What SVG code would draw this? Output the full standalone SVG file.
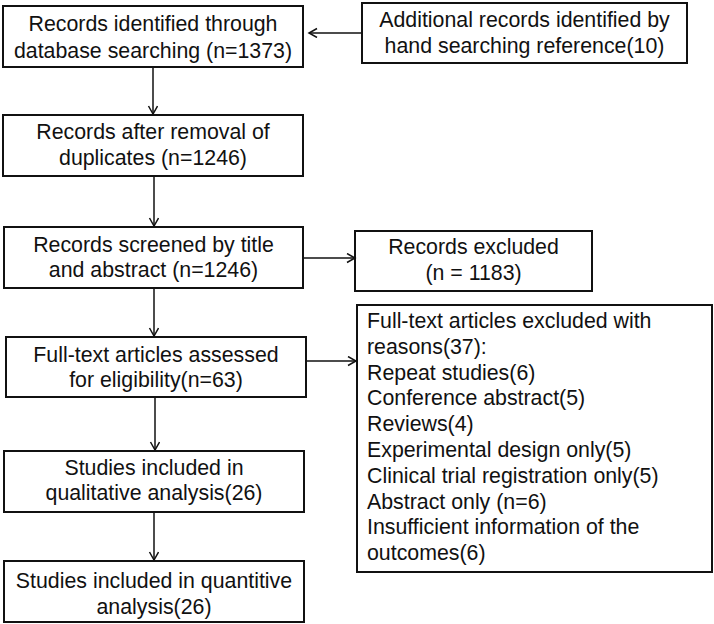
<svg xmlns="http://www.w3.org/2000/svg" width="714" height="624" viewBox="0 0 714 624">
<style>
rect{fill:#fff;stroke:#111;stroke-width:2}
text{font-family:"Liberation Sans",Arial,sans-serif;font-size:21.33px;fill:#111}
.c{text-anchor:middle}
.e line{stroke:#111;stroke-width:1.5}
</style>
<defs>
<marker id="ah" markerUnits="userSpaceOnUse" markerWidth="12" markerHeight="12" refX="9" refY="5" orient="auto">
<path d="M1,0.5 L9,5 L1,9.5" fill="none" stroke="#111" stroke-width="1.5"/>
</marker>
</defs>
<rect x="0" y="0" width="714" height="624" style="fill:#fff;stroke:none"/>
<g id="n1"><rect x="3" y="6" width="300" height="61"/><text class="c" x="153" y="31">Records identified through</text><text class="c" x="153" y="58">database searching (n=1373)</text></g>
<g id="n2"><rect x="362" y="3" width="325" height="60"/><text class="c" x="524.5" y="27">Additional records identified by</text><text class="c" x="524.5" y="53">hand searching reference(10)</text></g>
<g id="n3"><rect x="3" y="115" width="300" height="61"/><text class="c" x="153" y="139">Records after removal of</text><text class="c" x="153" y="165">duplicates (n=1246)</text></g>
<g id="n4"><rect x="4" y="227" width="299" height="61"/><text class="c" x="153.5" y="252">Records screened by title</text><text class="c" x="153.5" y="277">and abstract (n=1246)</text></g>
<g id="n5"><rect x="355" y="231" width="237" height="60"/><text class="c" x="473.5" y="254">Records excluded</text><text class="c" x="473.5" y="280">(n = 1183)</text></g>
<g id="n6"><rect x="6" y="337" width="300" height="60"/><text class="c" x="156" y="362">Full-text articles assessed</text><text class="c" x="156" y="387">for eligibility(n=63)</text></g>
<g id="n7"><rect x="357" y="305" width="355" height="267"/>
<text x="367" y="328">Full-text articles excluded with</text>
<text x="367" y="354">reasons(37):</text>
<text x="367" y="380">Repeat studies(6)</text>
<text x="367" y="405">Conference abstract(5)</text>
<text x="367" y="431">Reviews(4)</text>
<text x="367" y="457">Experimental design only(5)</text>
<text x="367" y="483">Clinical trial registration only(5)</text>
<text x="367" y="509">Abstract only (n=6)</text>
<text x="367" y="534">Insufficient information of the</text>
<text x="367" y="560">outcomes(6)</text>
</g>
<g id="n8"><rect x="4" y="451" width="300" height="61"/><text class="c" x="154" y="475">Studies included in</text><text class="c" x="154" y="500">qualitative analysis(26)</text></g>
<g id="n9"><rect x="4" y="561" width="300" height="61"/><text class="c" x="154" y="588">Studies included in quantitive</text><text class="c" x="154" y="614">analysis(26)</text></g>
<g id="edges" class="e">
<line x1="361" y1="33" x2="309" y2="33" marker-end="url(#ah)"/>
<line x1="153" y1="68" x2="153" y2="114" marker-end="url(#ah)"/>
<line x1="154" y1="177" x2="154" y2="226" marker-end="url(#ah)"/>
<line x1="304" y1="258" x2="355" y2="258" marker-end="url(#ah)"/>
<line x1="154" y1="289" x2="154" y2="336" marker-end="url(#ah)"/>
<line x1="307" y1="361" x2="356" y2="361" marker-end="url(#ah)"/>
<line x1="155" y1="398" x2="155" y2="450" marker-end="url(#ah)"/>
<line x1="154" y1="513" x2="154" y2="560" marker-end="url(#ah)"/>
</g>
</svg>
